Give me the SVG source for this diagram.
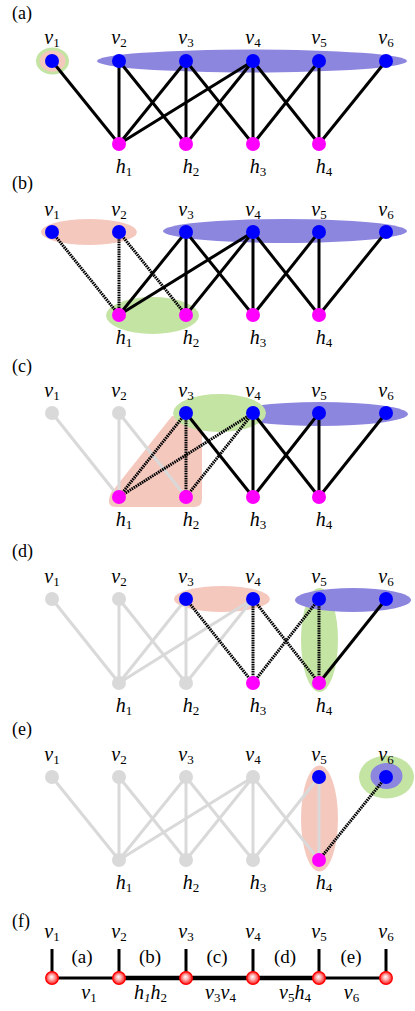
<svg xmlns="http://www.w3.org/2000/svg" width="415" height="1011" viewBox="0 0 415 1011" font-family="'Liberation Serif', 'Times New Roman', serif">
<style>
text, tspan{font-family:'Liberation Serif','Times New Roman',serif;fill:#000}
.pl{font-size:18px}
.lab{font-size:20px;font-style:italic}
.sub{font-size:13px;font-style:normal}
.fl{font-size:19px}
.s{stroke:#000;stroke-width:3;fill:none}
.d{stroke:#000;stroke-width:3;fill:none;stroke-dasharray:1.6 0.8}
.g{stroke:#d9d9d9;stroke-width:3;fill:none}
.nb{fill:#0000ff}
.nm{fill:#ff00ff}
.ng{fill:#d9d9d9}
.pu{fill:#8d86df}
.pk{fill:#f5c8be}
.gr{fill:#c4e4a4}
.rn{fill:url(#rg);stroke:#ff0000;stroke-width:1.3}
</style>
<defs>
<radialGradient id="rg" cx="0.5" cy="0.5" r="0.5" fx="0.45" fy="0.4">
<stop offset="0" stop-color="#ffffff"/>
<stop offset="0.4" stop-color="#ffb4b4"/>
<stop offset="1" stop-color="#ff1a1a"/>
</radialGradient>
</defs>

<g id="regions">
<ellipse class="gr" cx="52.5" cy="61" rx="16.5" ry="13.5"/>
<ellipse class="pk" cx="52.5" cy="61" rx="13" ry="10.5"/>
<ellipse class="pu" cx="252" cy="61" rx="155" ry="11.5"/>

<ellipse class="pk" cx="89" cy="232" rx="48" ry="13"/>
<ellipse class="pu" cx="285" cy="231" rx="122" ry="12"/>
<ellipse class="gr" cx="152.5" cy="315.5" rx="46.5" ry="18.5"/>

<path class="pk" d="M111 493 L172 416 L202 416 L202 499 Q202 507 194 507 L116 507 Q105 507 111 493 Z"/>
<ellipse class="pu" cx="320" cy="414" rx="88" ry="12"/>
<ellipse class="gr" cx="219.5" cy="413" rx="46.5" ry="19"/>

<ellipse class="pk" cx="222" cy="599" rx="48" ry="13"/>
<ellipse class="gr" cx="319.5" cy="640" rx="18.5" ry="52"/>
<ellipse class="pu" cx="353" cy="600" rx="58" ry="12"/>

<ellipse class="pk" cx="319.5" cy="818.5" rx="18.5" ry="53"/>
<ellipse class="gr" cx="386.5" cy="777" rx="27.5" ry="21.5"/>
<ellipse class="pu" cx="386.5" cy="776" rx="16" ry="13"/>
</g>

<g id="connectors">
<g id="conn-a">
<line class="s" x1="52" y1="61" x2="119" y2="144"/>
<line class="s" x1="119" y1="61" x2="119" y2="144"/>
<line class="s" x1="119" y1="61" x2="186" y2="144"/>
<line class="s" x1="186" y1="61" x2="119" y2="144"/>
<line class="s" x1="186" y1="61" x2="186" y2="144"/>
<line class="s" x1="186" y1="61" x2="253" y2="144"/>
<line class="s" x1="253" y1="61" x2="119" y2="144"/>
<line class="s" x1="253" y1="61" x2="186" y2="144"/>
<line class="s" x1="253" y1="61" x2="253" y2="144"/>
<line class="s" x1="253" y1="61" x2="319" y2="144"/>
<line class="s" x1="319" y1="61" x2="253" y2="144"/>
<line class="s" x1="319" y1="61" x2="319" y2="144"/>
<line class="s" x1="386" y1="61" x2="319" y2="144"/>
</g>
<g id="conn-b">
<line class="d" x1="52" y1="232" x2="119" y2="315"/>
<line class="d" x1="119" y1="232" x2="119" y2="315"/>
<line class="d" x1="119" y1="232" x2="186" y2="315"/>
<line class="s" x1="186" y1="232" x2="119" y2="315"/>
<line class="s" x1="186" y1="232" x2="186" y2="315"/>
<line class="s" x1="186" y1="232" x2="253" y2="315"/>
<line class="s" x1="253" y1="232" x2="119" y2="315"/>
<line class="s" x1="253" y1="232" x2="186" y2="315"/>
<line class="s" x1="253" y1="232" x2="253" y2="315"/>
<line class="s" x1="253" y1="232" x2="319" y2="315"/>
<line class="s" x1="319" y1="232" x2="253" y2="315"/>
<line class="s" x1="319" y1="232" x2="319" y2="315"/>
<line class="s" x1="386" y1="232" x2="319" y2="315"/>
</g>
<g id="conn-c">
<line class="g" x1="52" y1="413" x2="119" y2="497"/>
<line class="g" x1="119" y1="413" x2="119" y2="497"/>
<line class="g" x1="119" y1="413" x2="186" y2="497"/>
<line class="d" x1="186" y1="413" x2="119" y2="497"/>
<line class="d" x1="186" y1="413" x2="186" y2="497"/>
<line class="d" x1="253" y1="413" x2="119" y2="497"/>
<line class="d" x1="253" y1="413" x2="186" y2="497"/>
<line class="s" x1="186" y1="413" x2="253" y2="497"/>
<line class="s" x1="253" y1="413" x2="253" y2="497"/>
<line class="s" x1="253" y1="413" x2="319" y2="497"/>
<line class="s" x1="319" y1="413" x2="253" y2="497"/>
<line class="s" x1="319" y1="413" x2="319" y2="497"/>
<line class="s" x1="386" y1="413" x2="319" y2="497"/>
</g>
<g id="conn-d">
<line class="g" x1="52" y1="599" x2="119" y2="683"/>
<line class="g" x1="119" y1="599" x2="119" y2="683"/>
<line class="g" x1="119" y1="599" x2="186" y2="683"/>
<line class="g" x1="186" y1="599" x2="119" y2="683"/>
<line class="g" x1="186" y1="599" x2="186" y2="683"/>
<line class="g" x1="253" y1="599" x2="119" y2="683"/>
<line class="g" x1="253" y1="599" x2="186" y2="683"/>
<line class="d" x1="186" y1="599" x2="253" y2="683"/>
<line class="d" x1="253" y1="599" x2="253" y2="683"/>
<line class="d" x1="253" y1="599" x2="319" y2="683"/>
<line class="d" x1="319" y1="599" x2="253" y2="683"/>
<line class="d" x1="319" y1="599" x2="319" y2="683"/>
<line class="s" x1="386" y1="599" x2="319" y2="683"/>
</g>
<g id="conn-e">
<line class="g" x1="52" y1="777" x2="119" y2="860"/>
<line class="g" x1="119" y1="777" x2="119" y2="860"/>
<line class="g" x1="119" y1="777" x2="186" y2="860"/>
<line class="g" x1="186" y1="777" x2="119" y2="860"/>
<line class="g" x1="186" y1="777" x2="186" y2="860"/>
<line class="g" x1="186" y1="777" x2="253" y2="860"/>
<line class="g" x1="253" y1="777" x2="119" y2="860"/>
<line class="g" x1="253" y1="777" x2="186" y2="860"/>
<line class="g" x1="253" y1="777" x2="253" y2="860"/>
<line class="g" x1="253" y1="777" x2="319" y2="860"/>
<line class="g" x1="319" y1="777" x2="253" y2="860"/>
<line class="g" x1="319" y1="777" x2="319" y2="860"/>
<line class="d" x1="386" y1="777" x2="319" y2="860"/>
</g>
<g id="conn-f">
<line class="s" x1="52" y1="978" x2="119" y2="978"/>
<line x1="119" y1="978" x2="319" y2="978" stroke="#000" stroke-width="4.5"/>
<line class="s" x1="319" y1="978" x2="386" y2="978"/>
<line class="s" x1="52" y1="949" x2="52" y2="978"/>
<line class="s" x1="119" y1="949" x2="119" y2="978"/>
<line class="s" x1="186" y1="949" x2="186" y2="978"/>
<line class="s" x1="253" y1="949" x2="253" y2="978"/>
<line class="s" x1="319" y1="949" x2="319" y2="978"/>
<line class="s" x1="386" y1="949" x2="386" y2="978"/>
</g>
</g>

<g id="a-v1"><circle class="nb" cx="52" cy="61" r="7"/></g>
<g id="a-v2"><circle class="nb" cx="119" cy="61" r="7"/></g>
<g id="a-v3"><circle class="nb" cx="186" cy="61" r="7"/></g>
<g id="a-v4"><circle class="nb" cx="253" cy="61" r="7"/></g>
<g id="a-v5"><circle class="nb" cx="319" cy="61" r="7"/></g>
<g id="a-v6"><circle class="nb" cx="386" cy="61" r="7"/></g>
<g id="a-h1"><circle class="nm" cx="119" cy="144" r="7"/></g>
<g id="a-h2"><circle class="nm" cx="186" cy="144" r="7"/></g>
<g id="a-h3"><circle class="nm" cx="253" cy="144" r="7"/></g>
<g id="a-h4"><circle class="nm" cx="319" cy="144" r="7"/></g>
<g id="b-v1"><circle class="nb" cx="52" cy="232" r="7"/></g>
<g id="b-v2"><circle class="nb" cx="119" cy="232" r="7"/></g>
<g id="b-v3"><circle class="nb" cx="186" cy="232" r="7"/></g>
<g id="b-v4"><circle class="nb" cx="253" cy="232" r="7"/></g>
<g id="b-v5"><circle class="nb" cx="319" cy="232" r="7"/></g>
<g id="b-v6"><circle class="nb" cx="386" cy="232" r="7"/></g>
<g id="b-h1"><circle class="nm" cx="119" cy="315" r="7"/></g>
<g id="b-h2"><circle class="nm" cx="186" cy="315" r="7"/></g>
<g id="b-h3"><circle class="nm" cx="253" cy="315" r="7"/></g>
<g id="b-h4"><circle class="nm" cx="319" cy="315" r="7"/></g>
<g id="c-v1"><circle class="ng" cx="52" cy="413" r="7"/></g>
<g id="c-v2"><circle class="ng" cx="119" cy="413" r="7"/></g>
<g id="c-v3"><circle class="nb" cx="186" cy="413" r="7"/></g>
<g id="c-v4"><circle class="nb" cx="253" cy="413" r="7"/></g>
<g id="c-v5"><circle class="nb" cx="319" cy="413" r="7"/></g>
<g id="c-v6"><circle class="nb" cx="386" cy="413" r="7"/></g>
<g id="c-h1"><circle class="nm" cx="119" cy="497" r="7"/></g>
<g id="c-h2"><circle class="nm" cx="186" cy="497" r="7"/></g>
<g id="c-h3"><circle class="nm" cx="253" cy="497" r="7"/></g>
<g id="c-h4"><circle class="nm" cx="319" cy="497" r="7"/></g>
<g id="d-v1"><circle class="ng" cx="52" cy="599" r="7"/></g>
<g id="d-v2"><circle class="ng" cx="119" cy="599" r="7"/></g>
<g id="d-v3"><circle class="nb" cx="186" cy="599" r="7"/></g>
<g id="d-v4"><circle class="nb" cx="253" cy="599" r="7"/></g>
<g id="d-v5"><circle class="nb" cx="319" cy="599" r="7"/></g>
<g id="d-v6"><circle class="nb" cx="386" cy="599" r="7"/></g>
<g id="d-h1"><circle class="ng" cx="119" cy="683" r="7"/></g>
<g id="d-h2"><circle class="ng" cx="186" cy="683" r="7"/></g>
<g id="d-h3"><circle class="nm" cx="253" cy="683" r="7"/></g>
<g id="d-h4"><circle class="nm" cx="319" cy="683" r="7"/></g>
<g id="e-v1"><circle class="ng" cx="52" cy="777" r="7"/></g>
<g id="e-v2"><circle class="ng" cx="119" cy="777" r="7"/></g>
<g id="e-v3"><circle class="ng" cx="186" cy="777" r="7"/></g>
<g id="e-v4"><circle class="ng" cx="253" cy="777" r="7"/></g>
<g id="e-v5"><circle class="nb" cx="319" cy="777" r="7"/></g>
<g id="e-v6"><circle class="nb" cx="386" cy="777" r="7"/></g>
<g id="e-h1"><circle class="ng" cx="119" cy="860" r="7"/></g>
<g id="e-h2"><circle class="ng" cx="186" cy="860" r="7"/></g>
<g id="e-h3"><circle class="ng" cx="253" cy="860" r="7"/></g>
<g id="e-h4"><circle class="nm" cx="319" cy="860" r="7"/></g>
<g id="f-n1"><circle class="rn" cx="52" cy="978" r="6.3"/></g>
<g id="f-n2"><circle class="rn" cx="119" cy="978" r="6.3"/></g>
<g id="f-n3"><circle class="rn" cx="186" cy="978" r="6.3"/></g>
<g id="f-n4"><circle class="rn" cx="253" cy="978" r="6.3"/></g>
<g id="f-n5"><circle class="rn" cx="319" cy="978" r="6.3"/></g>
<g id="f-n6"><circle class="rn" cx="386" cy="978" r="6.3"/></g>

<g id="labels" font-family="'Liberation Serif', 'Times New Roman', serif">
<text class="pl" x="12" y="19">(a)</text>
<text class="pl" x="12" y="189">(b)</text>
<text class="pl" x="12" y="371.5">(c)</text>
<text class="pl" x="12" y="556.5">(d)</text>
<text class="pl" x="12" y="734.5">(e)</text>
<text class="pl" x="12" y="926.5">(f)</text>

<text class="lab" x="52" y="44" text-anchor="middle">v<tspan class="sub" dy="3">1</tspan></text>
<text class="lab" x="119" y="44" text-anchor="middle">v<tspan class="sub" dy="3">2</tspan></text>
<text class="lab" x="186" y="44" text-anchor="middle">v<tspan class="sub" dy="3">3</tspan></text>
<text class="lab" x="253" y="44" text-anchor="middle">v<tspan class="sub" dy="3">4</tspan></text>
<text class="lab" x="319" y="44" text-anchor="middle">v<tspan class="sub" dy="3">5</tspan></text>
<text class="lab" x="386" y="44" text-anchor="middle">v<tspan class="sub" dy="3">6</tspan></text>
<text class="lab" x="124" y="173" text-anchor="middle">h<tspan class="sub" dy="3">1</tspan></text>
<text class="lab" x="191" y="173" text-anchor="middle">h<tspan class="sub" dy="3">2</tspan></text>
<text class="lab" x="258" y="173" text-anchor="middle">h<tspan class="sub" dy="3">3</tspan></text>
<text class="lab" x="324" y="173" text-anchor="middle">h<tspan class="sub" dy="3">4</tspan></text>

<text class="lab" x="52" y="216" text-anchor="middle">v<tspan class="sub" dy="3">1</tspan></text>
<text class="lab" x="119" y="216" text-anchor="middle">v<tspan class="sub" dy="3">2</tspan></text>
<text class="lab" x="186" y="216" text-anchor="middle">v<tspan class="sub" dy="3">3</tspan></text>
<text class="lab" x="253" y="216" text-anchor="middle">v<tspan class="sub" dy="3">4</tspan></text>
<text class="lab" x="319" y="216" text-anchor="middle">v<tspan class="sub" dy="3">5</tspan></text>
<text class="lab" x="386" y="216" text-anchor="middle">v<tspan class="sub" dy="3">6</tspan></text>
<text class="lab" x="124" y="344" text-anchor="middle">h<tspan class="sub" dy="3">1</tspan></text>
<text class="lab" x="191" y="344" text-anchor="middle">h<tspan class="sub" dy="3">2</tspan></text>
<text class="lab" x="258" y="344" text-anchor="middle">h<tspan class="sub" dy="3">3</tspan></text>
<text class="lab" x="324" y="344" text-anchor="middle">h<tspan class="sub" dy="3">4</tspan></text>

<text class="lab" x="52" y="397" text-anchor="middle">v<tspan class="sub" dy="3">1</tspan></text>
<text class="lab" x="119" y="397" text-anchor="middle">v<tspan class="sub" dy="3">2</tspan></text>
<text class="lab" x="186" y="397" text-anchor="middle">v<tspan class="sub" dy="3">3</tspan></text>
<text class="lab" x="253" y="397" text-anchor="middle">v<tspan class="sub" dy="3">4</tspan></text>
<text class="lab" x="319" y="397" text-anchor="middle">v<tspan class="sub" dy="3">5</tspan></text>
<text class="lab" x="386" y="397" text-anchor="middle">v<tspan class="sub" dy="3">6</tspan></text>
<text class="lab" x="124" y="526" text-anchor="middle">h<tspan class="sub" dy="3">1</tspan></text>
<text class="lab" x="191" y="526" text-anchor="middle">h<tspan class="sub" dy="3">2</tspan></text>
<text class="lab" x="258" y="526" text-anchor="middle">h<tspan class="sub" dy="3">3</tspan></text>
<text class="lab" x="324" y="526" text-anchor="middle">h<tspan class="sub" dy="3">4</tspan></text>

<text class="lab" x="52" y="583" text-anchor="middle">v<tspan class="sub" dy="3">1</tspan></text>
<text class="lab" x="119" y="583" text-anchor="middle">v<tspan class="sub" dy="3">2</tspan></text>
<text class="lab" x="186" y="583" text-anchor="middle">v<tspan class="sub" dy="3">3</tspan></text>
<text class="lab" x="253" y="583" text-anchor="middle">v<tspan class="sub" dy="3">4</tspan></text>
<text class="lab" x="319" y="583" text-anchor="middle">v<tspan class="sub" dy="3">5</tspan></text>
<text class="lab" x="386" y="583" text-anchor="middle">v<tspan class="sub" dy="3">6</tspan></text>
<text class="lab" x="124" y="712" text-anchor="middle">h<tspan class="sub" dy="3">1</tspan></text>
<text class="lab" x="191" y="712" text-anchor="middle">h<tspan class="sub" dy="3">2</tspan></text>
<text class="lab" x="258" y="712" text-anchor="middle">h<tspan class="sub" dy="3">3</tspan></text>
<text class="lab" x="324" y="712" text-anchor="middle">h<tspan class="sub" dy="3">4</tspan></text>

<text class="lab" x="52" y="761" text-anchor="middle">v<tspan class="sub" dy="3">1</tspan></text>
<text class="lab" x="119" y="761" text-anchor="middle">v<tspan class="sub" dy="3">2</tspan></text>
<text class="lab" x="186" y="761" text-anchor="middle">v<tspan class="sub" dy="3">3</tspan></text>
<text class="lab" x="253" y="761" text-anchor="middle">v<tspan class="sub" dy="3">4</tspan></text>
<text class="lab" x="319" y="761" text-anchor="middle">v<tspan class="sub" dy="3">5</tspan></text>
<text class="lab" x="386" y="761" text-anchor="middle">v<tspan class="sub" dy="3">6</tspan></text>
<text class="lab" x="124" y="889" text-anchor="middle">h<tspan class="sub" dy="3">1</tspan></text>
<text class="lab" x="191" y="889" text-anchor="middle">h<tspan class="sub" dy="3">2</tspan></text>
<text class="lab" x="258" y="889" text-anchor="middle">h<tspan class="sub" dy="3">3</tspan></text>
<text class="lab" x="324" y="889" text-anchor="middle">h<tspan class="sub" dy="3">4</tspan></text>

<text class="lab" x="52" y="938" text-anchor="middle">v<tspan class="sub" dy="3">1</tspan></text>
<text class="lab" x="119" y="938" text-anchor="middle">v<tspan class="sub" dy="3">2</tspan></text>
<text class="lab" x="186" y="938" text-anchor="middle">v<tspan class="sub" dy="3">3</tspan></text>
<text class="lab" x="253" y="938" text-anchor="middle">v<tspan class="sub" dy="3">4</tspan></text>
<text class="lab" x="319" y="938" text-anchor="middle">v<tspan class="sub" dy="3">5</tspan></text>
<text class="lab" x="386" y="938" text-anchor="middle">v<tspan class="sub" dy="3">6</tspan></text>
<text class="lab" x="89" y="999" text-anchor="middle">v<tspan class="sub" dy="3">1</tspan></text>
<text class="lab" x="150.5" y="999" text-anchor="middle">h<tspan class="sub" dy="3" font-style="italic" style="font-style:italic">1</tspan><tspan dy="-3">h</tspan><tspan class="sub" dy="3">2</tspan></text>
<text class="lab" x="220.5" y="999" text-anchor="middle">v<tspan class="sub" dy="3">3</tspan><tspan dy="-3">v</tspan><tspan class="sub" dy="3">4</tspan></text>
<text class="lab" x="295" y="999" text-anchor="middle">v<tspan class="sub" dy="3">5</tspan><tspan dy="-3">h</tspan><tspan class="sub" dy="3">4</tspan></text>
<text class="lab" x="351.5" y="999" text-anchor="middle">v<tspan class="sub" dy="3">6</tspan></text>

<text class="fl" x="82" y="963" text-anchor="middle">(a)</text>
<text class="fl" x="150" y="963" text-anchor="middle">(b)</text>
<text class="fl" x="217" y="963" text-anchor="middle">(c)</text>
<text class="fl" x="285" y="963" text-anchor="middle">(d)</text>
<text class="fl" x="351" y="963" text-anchor="middle">(e)</text>
</g>
</svg>
